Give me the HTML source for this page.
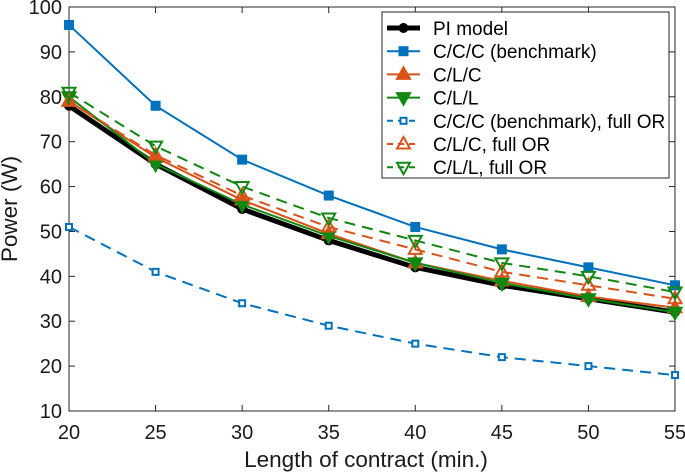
<!DOCTYPE html>
<html><head><meta charset="utf-8"><style>
body{margin:0;background:#fff}
svg{display:block;font-family:"Liberation Sans",Arial,sans-serif}
</style></head><body>
<svg id="chart" width="685" height="473"></svg>
<script>
const categories=[20,25,30,35,40,45,50,55];
const piModel=[78,65,55,48,42,38,35,32];
const cccBench=[96,78,66,58,51,46,42,38];
const clc=[79,66.5,57,49.5,43,39,35.5,33];
const cll=[80,65,56,49,43,38.5,35,32];
const cccFull=[51,41,34,29,25,22,20,18];
const clcFull=[79,67,58,51,46,41,38,35];
const cllFull=[81,69,60,53,48,43,40,36.5];
const yTicks=[10,20,30,40,50,60,70,80,90,100];
const xTicks=[20,25,30,35,40,45,50,55];
const seriesNames=["PI model","C/C/C (benchmark)","C/L/C","C/L/L","C/C/C (benchmark), full OR","C/L/C, full OR","C/L/L, full OR"];

const NS="http://www.w3.org/2000/svg";
const svg=document.getElementById('chart');
const L=69,R=675,T=7,B=411;
const xs=v=>L+(v-20)/(55-20)*(R-L);
const ys=v=>B-(v-10)/(100-10)*(B-T);
function mk(tag,attrs,parent){const e=document.createElementNS(NS,tag);for(const k in attrs)e.setAttribute(k,attrs[k]);(parent||svg).appendChild(e);return e;}

const axes=mk('g',{});


mk('rect',{x:L,y:T,width:R-L,height:B-T,fill:'none',stroke:'#262626','stroke-width':1},axes);
yTicks.forEach(t=>{
  const y=ys(t);
  mk('line',{x1:L,x2:L+6,y1:y,y2:y,stroke:'#262626'},axes);
  mk('line',{x1:R,x2:R-6,y1:y,y2:y,stroke:'#262626'},axes);
  const tx=mk('text',{x:L-7,y:y+7,'text-anchor':'end','font-size':20,fill:'#1a1a1a'},axes);
  tx.textContent=t;
  
  
});
xTicks.forEach(t=>{
  const x=xs(t);
  mk('line',{x1:x,x2:x,y1:B,y2:B-6,stroke:'#262626'},axes);
  mk('line',{x1:x,x2:x,y1:T,y2:T+6,stroke:'#262626'},axes);
  const tx=mk('text',{x:x,y:B+28,'text-anchor':'middle','font-size':20,fill:'#1a1a1a'},axes);
  tx.textContent=t;
  
  
});
const xt=mk('text',{x:366,y:467,'text-anchor':'middle','font-size':22.5,fill:'#1a1a1a'});
xt.textContent='Length of contract (min.)';


const yt=mk('text',{x:0,y:0,'text-anchor':'middle','font-size':22.5,fill:'#1a1a1a',transform:'translate(17,'+((T+B)/2)+') rotate(-90)'});
yt.textContent='Power (W)';



const BLUE='#0072BD',ORANGE='#D95319',GREEN='#118811';
const series=[
 {d:piModel,c:'#000',w:5,dash:null,m:'circle',fill:true},
 {d:cccBench,c:BLUE,w:2,dash:null,m:'square',fill:true},
 {d:clc,c:ORANGE,w:2,dash:null,m:'up',fill:true},
 {d:cll,c:GREEN,w:2,dash:null,m:'down',fill:true},
 {d:cccFull,c:BLUE,w:2,dash:'11,7',m:'square',fill:false},
 {d:clcFull,c:ORANGE,w:2,dash:'11,7',m:'up',fill:false},
 {d:cllFull,c:GREEN,w:2,dash:'11,7',m:'down',fill:false}
];
function marker(g,type,x,y,c,fill){
  const f=fill?c:'none',sw=2;
  let e;
  if(type==='circle')e=mk('circle',{cx:x,cy:y,r:4.5,fill:c,stroke:c},g);
  else if(type==='square'){const s=fill?4:3;e=mk('rect',{x:x-s,y:y-s,width:2*s,height:2*s,fill:fill?c:'#fff',stroke:c,'stroke-width':sw},g);}
  else if(type==='up')e=mk('polygon',{points:`${x},${y-7} ${x-6.5},${y+4.5} ${x+6.5},${y+4.5}`,fill:f,stroke:c,'stroke-width':sw},g);
  else e=mk('polygon',{points:`${x},${y+7} ${x-6.5},${y-4.5} ${x+6.5},${y-4.5}`,fill:f,stroke:c,'stroke-width':sw},g);
  
  
}
series.forEach((s,i)=>{
  const g=mk('g',{});
  
  
  const p=mk('polyline',{points:s.d.map((v,j)=>xs(categories[j])+','+ys(v)).join(' '),fill:'none',stroke:s.c,'stroke-width':s.w,'stroke-dasharray':s.dash||'none'},g);
  
  
  s.d.forEach((v,j)=>marker(g,s.m,xs(categories[j]),ys(v),s.c,s.fill));
});

const lg=mk('g',{});


mk('rect',{x:382,y:12,width:287,height:166,fill:'#fff',stroke:'#262626'},lg);
series.forEach((s,i)=>{
  const y=28+i*23.2;
  const e=mk('g',{},lg);
  
  
  mk('line',{x1:387,x2:420,y1:y,y2:y,stroke:s.c,'stroke-width':s.w,'stroke-dasharray':s.dash?'6,5':'none'},e);
  marker(e,s.m,403.5,y,s.c,s.fill);
  const t=mk('text',{x:433,y:y+7,'font-size':19,fill:'#000'},e);
  t.textContent=seriesNames[i];
});
</script>
</body></html>
